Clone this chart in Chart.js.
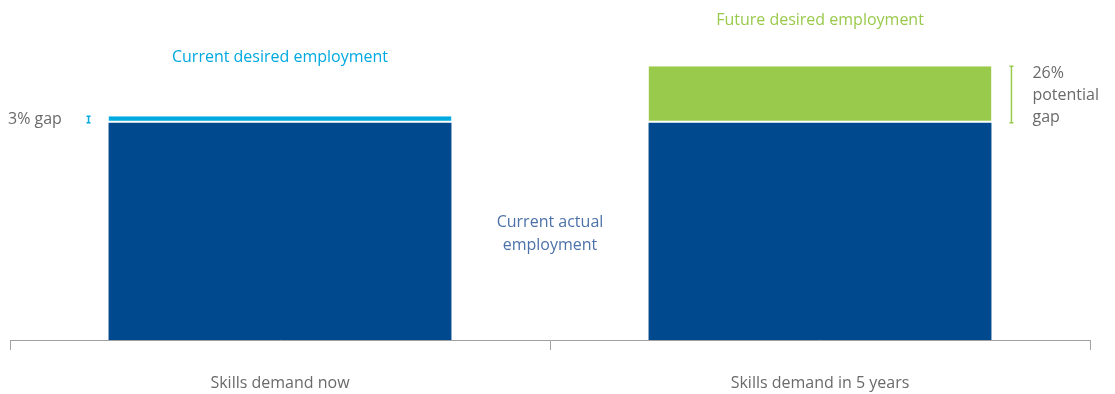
<!DOCTYPE html>
<html lang="en">
<head>
    <meta charset="UTF-8">
    <title>Skills demand gap</title>
    <script src="https://cdn.jsdelivr.net/npm/chart.js"></script>
    <style>
        body {
            margin: 0;
            background: #fff;
        }
        #wrap {
            width: 1115px;
            height: 394px;
        }
    </style>
</head>
<body>

    <div id="wrap"><canvas id="gapChart"></canvas></div>

    <script type='text/javascript'>
    // Employment levels, actual employment indexed to 100
    const categories = ['Skills demand now', 'Skills demand in 5 years'];
    const actualEmployment = [100, 100];
    const currentGap = [3, null];
    const futureGap = [null, 26];

    const darkBlue = '#01498e';
    const lightBlue = '#00a9e0';
    const green = '#9aca4c';
    const textGrey = '#6a6a6a';
    const fontFamily = '"Open Sans", Arial, sans-serif';

    // Text labels and gap brackets drawn on top of the bars
    const notes = {
        id: 'notes',
        afterDatasetsDraw(chart) {
            const ctx = chart.ctx;
            const x = chart.scales.x;
            const y = chart.scales.y;
            const half = chart.getDatasetMeta(0).data[0].width / 2;

            ctx.save();
            ctx.font = '16px ' + fontFamily;
            ctx.textAlign = 'center';
            ctx.textBaseline = 'middle';

            ctx.fillStyle = lightBlue;
            ctx.fillText('Current desired employment', x.getPixelForValue(0), 57);
            ctx.fillStyle = green;
            ctx.fillText('Future desired employment', x.getPixelForValue(1), 20);

            ctx.fillStyle = '#4d72a8';
            const mid = (x.getPixelForValue(0) + x.getPixelForValue(1)) / 2;
            ctx.fillText('Current actual', mid, 222);
            ctx.fillText('employment', mid, 245);

            // gap brackets
            function bracket(px, from, to, color) {
                const y0 = y.getPixelForValue(from);
                const y1 = y.getPixelForValue(to);
                ctx.strokeStyle = color;
                ctx.lineWidth = 1.5;
                ctx.beginPath();
                ctx.moveTo(px, y0); ctx.lineTo(px, y1);
                ctx.moveTo(px - 2, y0); ctx.lineTo(px + 2, y0);
                ctx.moveTo(px - 2, y1); ctx.lineTo(px + 2, y1);
                ctx.stroke();
            }
            const leftEdge = x.getPixelForValue(0) - half;
            const rightEdge = x.getPixelForValue(1) + half;
            bracket(leftEdge - 20, actualEmployment[0], actualEmployment[0] + currentGap[0], lightBlue);
            bracket(rightEdge + 20, actualEmployment[1], actualEmployment[1] + futureGap[1], green);

            ctx.fillStyle = textGrey;
            ctx.textAlign = 'left';
            ctx.fillText(currentGap[0] + '% gap', 8, y.getPixelForValue(actualEmployment[0] + currentGap[0] / 2));
            const gx = rightEdge + 41;
            ctx.fillText(futureGap[1] + '%', gx, 73);
            ctx.fillText('potential', gx, 95);
            ctx.fillText('gap', gx, 117);
            ctx.restore();
        }
    };

    const ctx = document.getElementById('gapChart').getContext('2d');

    new Chart(ctx, {
        type: 'bar',
        data: {
            labels: categories,
            datasets: [{
                label: 'Current actual employment',
                data: actualEmployment,
                backgroundColor: darkBlue,
                borderWidth: 0
            }, {
                label: 'Current desired employment',
                data: currentGap,
                backgroundColor: lightBlue,
                borderColor: '#fff',
                borderWidth: { top: 0, left: 0, right: 0, bottom: 2 },
                borderSkipped: false
            }, {
                label: 'Future desired employment',
                data: futureGap,
                backgroundColor: green,
                borderColor: '#fff',
                borderWidth: { top: 0, left: 0, right: 0, bottom: 2 },
                borderSkipped: false
            }]
        },
        options: {
            responsive: true,
            maintainAspectRatio: false,
            animation: false,
            layout: {
                padding: { left: 10, right: 25, top: 14, bottom: 2 }
            },
            datasets: {
                bar: { barPercentage: 0.635, categoryPercentage: 1 }
            },
            plugins: {
                legend: { display: false },
                tooltip: { enabled: false }
            },
            scales: {
                x: {
                    stacked: true,
                    afterFit(scale) {
                        scale.height = 52;
                    },
                    grid: {
                        offset: true,
                        drawOnChartArea: false,
                        color: '#a0a0a0',
                        tickLength: 10
                    },
                    border: { color: '#a0a0a0', width: 1 },
                    ticks: {
                        color: textGrey,
                        padding: 24,
                        font: { family: fontFamily, size: 16 }
                    }
                },
                y: {
                    stacked: true,
                    display: false,
                    min: 0,
                    max: 150
                }
            }
        },
        plugins: [notes]
    });
    </script>

</body></html>
